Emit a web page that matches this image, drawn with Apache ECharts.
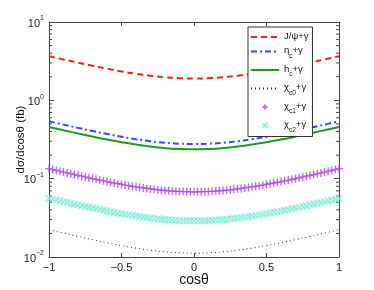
<!DOCTYPE html>
<html><head><meta charset="utf-8">
<script src="https://cdn.jsdelivr.net/npm/echarts@6/dist/echarts.min.js"></script>
<style>html,body{margin:0;padding:0;background:#fff}#c{width:374px;height:290px}</style>
</head><body><div id="c"></div>
<script>
// cosθ sample positions for the line series
const cosLine = [-1,-0.9,-0.8,-0.7,-0.6,-0.5,-0.4,-0.3,-0.2,-0.1,0,0.1,0.2,0.3,0.4,0.5,0.6,0.7,0.8,0.9,1];
const jpsi = [3.660,3.326,3.026,2.762,2.534,2.340,2.182,2.058,1.970,1.918,1.900,1.918,1.970,2.058,2.182,2.340,2.534,2.762,3.026,3.326,3.660];
const etac = [0.5400,0.4900,0.4453,0.4059,0.3717,0.3428,0.3191,0.3007,0.2875,0.2796,0.2770,0.2796,0.2875,0.3007,0.3191,0.3428,0.3717,0.4059,0.4453,0.4900,0.5400];
const hc = [0.4570,0.4152,0.3778,0.3448,0.3162,0.2920,0.2722,0.2568,0.2458,0.2392,0.2370,0.2392,0.2458,0.2568,0.2722,0.2920,0.3162,0.3448,0.3778,0.4152,0.4570];
const chic0 = [0.02230,0.02019,0.01830,0.01664,0.01520,0.01398,0.01298,0.01220,0.01164,0.01131,0.01120,0.01131,0.01164,0.01220,0.01298,0.01398,0.01520,0.01664,0.01830,0.02019,0.02230];
// cosθ sample positions for the marker series (step 0.025)
const cosMark = [-1,-0.975,-0.95,-0.925,-0.9,-0.875,-0.85,-0.825,-0.8,-0.775,-0.75,-0.725,-0.7,-0.675,-0.65,-0.625,-0.6,-0.575,-0.55,-0.525,-0.5,-0.475,-0.45,-0.425,-0.4,-0.375,-0.35,-0.325,-0.3,-0.275,-0.25,-0.225,-0.2,-0.175,-0.15,-0.125,-0.1,-0.075,-0.05,-0.025,0,0.025,0.05,0.075,0.1,0.125,0.15,0.175,0.2,0.225,0.25,0.275,0.3,0.325,0.35,0.375,0.4,0.425,0.45,0.475,0.5,0.525,0.55,0.575,0.6,0.625,0.65,0.675,0.7,0.725,0.75,0.775,0.8,0.825,0.85,0.875,0.9,0.925,0.95,0.975,1];
const chic1 = [0.1340,0.1307,0.1276,0.1245,0.1215,0.1185,0.1157,0.1129,0.1102,0.1076,0.1051,0.1027,0.1003,0.0981,0.0959,0.0938,0.0918,0.0898,0.0880,0.0862,0.0845,0.0829,0.0814,0.0799,0.0786,0.0773,0.0761,0.0750,0.0739,0.0730,0.0721,0.0713,0.0706,0.0700,0.0695,0.0690,0.0687,0.0684,0.0682,0.0680,0.0680,0.0680,0.0682,0.0684,0.0687,0.0690,0.0695,0.0700,0.0706,0.0713,0.0721,0.0730,0.0739,0.0750,0.0761,0.0773,0.0786,0.0799,0.0814,0.0829,0.0845,0.0862,0.0880,0.0898,0.0918,0.0938,0.0959,0.0981,0.1003,0.1027,0.1051,0.1076,0.1102,0.1129,0.1157,0.1185,0.1215,0.1245,0.1276,0.1307,0.1340];
const chic2 = [0.0560,0.0547,0.0534,0.0521,0.0509,0.0497,0.0485,0.0474,0.0463,0.0452,0.0442,0.0432,0.0422,0.0413,0.0404,0.0395,0.0387,0.0379,0.0372,0.0364,0.0358,0.0351,0.0345,0.0339,0.0333,0.0328,0.0323,0.0319,0.0314,0.0310,0.0307,0.0304,0.0301,0.0298,0.0296,0.0294,0.0293,0.0292,0.0291,0.0290,0.0290,0.0290,0.0291,0.0292,0.0293,0.0294,0.0296,0.0298,0.0301,0.0304,0.0307,0.0310,0.0314,0.0319,0.0323,0.0328,0.0333,0.0339,0.0345,0.0351,0.0358,0.0364,0.0372,0.0379,0.0387,0.0395,0.0404,0.0413,0.0422,0.0432,0.0442,0.0452,0.0463,0.0474,0.0485,0.0497,0.0509,0.0521,0.0534,0.0547,0.0560];
// axis tick labels
const xTickLabels = {'-1':'\u22121','-0.5':'\u22120.5','0':'0','0.5':'0.5','1':'1'};
const yTickExp = {'0.01':'\u22122','0.1':'\u22121','1':'0','10':'1'};
const minorTickVals = [0.02,0.03,0.04,0.05,0.06,0.07,0.08,0.09,0.2,0.3,0.4,0.5,0.6,0.7,0.8,0.9,2,3,4,5,6,7,8,9];
const names = ['J/\u03c8+\u03b3','\u03b7c+\u03b3','hc+\u03b3','\u03c7c0+\u03b3','\u03c7c1+\u03b3','\u03c7c2+\u03b3'];
const legendRich = {
  'J/\u03c8+\u03b3':'{n|J/\u03c8+\u03b3}',
  '\u03b7c+\u03b3':'{n|\u03b7}{s|c}{n|+\u03b3}',
  'hc+\u03b3':'{n|h}{s|c}{n|+\u03b3}',
  '\u03c7c0+\u03b3':'{n|\u03c7}{s|c0}{n|+\u03b3}',
  '\u03c7c1+\u03b3':'{n|\u03c7}{s|c1}{n|+\u03b3}',
  '\u03c7c2+\u03b3':'{n|\u03c7}{s|c2}{n|+\u03b3}'
};
const FONT = 'Liberation Sans, Arial, sans-serif';
const pairs = (xs, ys) => xs.map((x, i) => [x, ys[i]]);
const chart = echarts.init(document.getElementById('c'), null, {renderer:'canvas'});
const axisLine = {show:true, onZero:false, lineStyle:{color:'#444', width:1}};
const xBase = {type:'value', min:-1, max:1, interval:0.5, axisLine, splitLine:{show:false},
  axisTick:{show:true, inside:true, length:4, lineStyle:{color:'#444'}}};
const yBase = {type:'log', logBase:10, min:0.01, max:10, axisLine, splitLine:{show:false},
  axisTick:{show:true, inside:true, length:5, lineStyle:{color:'#444'}}};
chart.setOption({
  animation:false,
  backgroundColor:'#fff',
  textStyle:{fontFamily:FONT},
  grid:{left:49, right:35, top:22, bottom:33, containLabel:false, outerBoundsMode:'none'},
  xAxis:[
    Object.assign({}, xBase, {position:'bottom', name:'cos\u03b8', nameLocation:'middle', nameGap:16, nameMoveOverlap:false,
      nameTextStyle:{fontSize:14, color:'#111', fontFamily:FONT},
      axisLabel:{fontSize:11, color:'#222', margin:5, fontFamily:FONT, formatter:v => xTickLabels[String(v)] ?? String(v)}}),
    Object.assign({}, xBase, {position:'top', axisLabel:{show:false}})
  ],
  yAxis:[
    Object.assign({}, yBase, {position:'left', name:'d\u03c3/dcos\u03b8 (fb)', nameLocation:'middle', nameGap:22, nameMoveOverlap:false,
      nameTextStyle:{fontSize:11.5, color:'#111', fontFamily:FONT},
      axisLabel:{color:'#222', margin:5, fontFamily:FONT,
        formatter:v => '{b|10}{e|' + (yTickExp[String(v)] ?? '') + '}',
        rich:{b:{fontSize:11, color:'#222', fontFamily:FONT, verticalAlign:'bottom', lineHeight:14},
              e:{fontSize:7, color:'#222', fontFamily:FONT, verticalAlign:'top', lineHeight:14, padding:[0,0,7,0]}}}}),
    Object.assign({}, yBase, {position:'right', axisLabel:{show:false}})
  ],
  legend:{
    data:[
      {name:names[0], itemStyle:{opacity:0}},
      {name:names[1], itemStyle:{opacity:0}},
      {name:names[2], itemStyle:{opacity:0}},
      {name:names[3], itemStyle:{opacity:0}},
      {name:names[4]},
      {name:names[5]}
    ],
    orient:'vertical', left:248, top:27, width:60,
    backgroundColor:'#fff', borderColor:'#333', borderWidth:1, borderRadius:0,
    padding:[4,4,3,2], itemGap:4.5, itemWidth:28, itemHeight:5,
    formatter:n => legendRich[n],
    textStyle:{fontSize:9.5, color:'#111', fontFamily:FONT,
      rich:{n:{fontSize:9.5, color:'#111', fontFamily:FONT, verticalAlign:'top', lineHeight:12},
            s:{fontSize:6.5, color:'#111', fontFamily:FONT, verticalAlign:'top', lineHeight:8, padding:[7,0,0,0]}}}
  },
  series:[
    {name:names[0], type:'line', smooth:true, symbol:'none', data:pairs(cosLine, jpsi),
      lineStyle:{color:'#ff1a1a', width:2, type:[6,4]}, itemStyle:{color:'#ff1a1a'}},
    {name:names[1], type:'line', smooth:true, symbol:'none', data:pairs(cosLine, etac),
      lineStyle:{color:'#2a4dff', width:2, type:[6,3,2,3]}, itemStyle:{color:'#2a4dff'}},
    {name:names[2], type:'line', smooth:true, symbol:'none', data:pairs(cosLine, hc),
      lineStyle:{color:'#1a9e1a', width:2, type:'solid'}, itemStyle:{color:'#1a9e1a'}},
    {name:names[3], type:'line', smooth:true, symbol:'none', data:pairs(cosLine, chic0),
      lineStyle:{color:'#333', width:1, type:[1,3]}, itemStyle:{color:'#333'}},
    {name:names[4], type:'scatter', data:pairs(cosMark, chic1), symbol:'path://M0,5L10,5M5,0L5,10', symbolSize:8,
      itemStyle:{color:'rgba(0,0,0,0)', borderColor:'#b040ff', borderWidth:1.3}},
    {name:names[5], type:'scatter', data:pairs(cosMark, chic2), symbol:'path://M0,0L10,10M10,0L0,10', symbolSize:6.5,
      itemStyle:{color:'rgba(0,0,0,0)', borderColor:'#6ff0d0', borderWidth:1.4}},
    {type:'custom', silent:true, clip:false, data:minorTickVals.map(v => [v]),
      renderItem:(params, api) => {
        const v = api.value(0);
        const l = api.coord([-1, v]);
        const r = api.coord([1, v]);
        const st = {stroke:'#444', lineWidth:1};
        return {type:'group', children:[
          {type:'line', shape:{x1:l[0], y1:l[1], x2:l[0]+3, y2:l[1]}, style:st},
          {type:'line', shape:{x1:r[0], y1:r[1], x2:r[0]-3, y2:r[1]}, style:st}
        ]};
      }, encode:{y:0}}
  ]
});
</script></body></html>
